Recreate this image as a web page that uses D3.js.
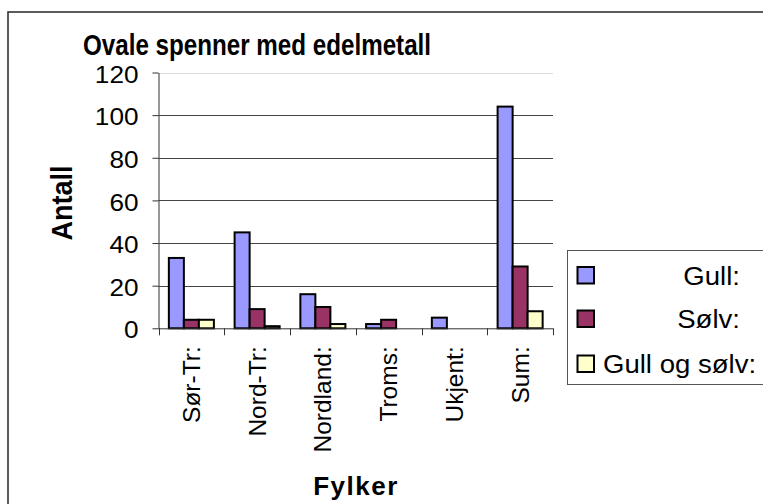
<!DOCTYPE html>
<html>
<head>
<meta charset="utf-8">
<script src="https://cdn.jsdelivr.net/npm/d3@7"></script>
<style>
  html, body { margin: 0; padding: 0; background: #fff; }
  svg { display: block; font-family: Arial, "Liberation Sans", sans-serif; }
</style>
</head>
<body>
<svg id="chart" width="763" height="504"></svg>
<script>
const categories = ["Sør-Tr:", "Nord-Tr:", "Nordland:", "Troms:", "Ukjent:", "Sum:"];
const seriesNames = ["Gull:", "Sølv:", "Gull og sølv:"];
const gull = [33, 45, 16, 2, 5, 104];
const solv = [4, 9, 10, 4, 0, 29];
const gullOgSolv = [4, 1, 2, 0, 0, 8];
const seriesValues = [gull, solv, gullOgSolv];
const colors = ["#9999FF", "#993366", "#FFFFCC"];
const yTicks = [0, 20, 40, 60, 80, 100, 120];
const titleText = "Ovale spenner med edelmetall";
const xTitle = "Fylker";
const yTitle = "Antall";

const svg = d3.select("#chart");

// outer chart frame
svg.append("rect")
  .attr("x", 8).attr("y", 12).attr("width", 800).attr("height", 520)
  .attr("fill", "#fff").attr("stroke", "#333").attr("stroke-width", 1.6);

const plot = { left: 158.5, right: 553, top: 72.5, bottom: 328.3 };

const x0 = d3.scaleBand().domain(categories).range([plot.left, plot.right]).padding(0);
const x1 = d3.scaleBand().domain(seriesNames).range([0, x0.bandwidth()]).paddingInner(0).paddingOuter(0.69);
const y = d3.scaleLinear().domain([0, 120]).range([plot.bottom, plot.top]);

// gridlines
svg.append("g").selectAll("line").data(yTicks.filter(d => d > 0)).join("line")
  .attr("x1", plot.left).attr("x2", plot.right)
  .attr("y1", d => Math.round(y(d)) + 0.5).attr("y2", d => Math.round(y(d)) + 0.5)
  .attr("stroke", d => d === 120 ? "#dcdcdc" : "#444").attr("stroke-width", 1);

// bars
const rows = categories.map((c, i) => ({ cat: c, vals: seriesNames.map((s, j) => ({ s, j, v: seriesValues[j][i] })) }));
const groups = svg.append("g").selectAll("g").data(rows).join("g")
  .attr("transform", d => `translate(${x0(d.cat)},0)`);
groups.selectAll("rect").data(d => d.vals.filter(e => e.v > 0)).join("rect")
  .attr("x", d => x1(d.s))
  .attr("y", d => y(d.v))
  .attr("width", x1.bandwidth())
  .attr("height", d => y(0) - y(d.v))
  .attr("fill", d => colors[d.j])
  .attr("stroke", "#000").attr("stroke-width", 2);

// y axis
const yAxis = d3.axisLeft(y).tickValues(yTicks).tickSize(6).tickSizeOuter(0).tickPadding(14);
const gy = svg.append("g").attr("transform", `translate(${plot.left},0)`).call(yAxis);
gy.select(".domain").attr("stroke", "#333");
gy.selectAll(".tick line").attr("stroke", "#333");
gy.selectAll(".tick text").attr("font-size", 24).attr("fill", "#000")
  .attr("font-family", "Arial, 'Liberation Sans', sans-serif")
  .attr("text-anchor", "end")
  .attr("transform", "translate(-20,2) scale(1.09,1)")
  .attr("x", 0);

// x axis (labels at band centres)
const xAxis = d3.axisBottom(x0).tickSize(0).tickPadding(0);
const gx = svg.append("g").attr("transform", `translate(0,${plot.bottom})`).call(xAxis);
gx.select(".domain").attr("stroke", "#333").attr("d", `M${plot.left},0.5H${plot.right}`);
gx.selectAll(".tick text")
  .attr("font-size", 24.5).attr("fill", "#000")
  .attr("font-family", "Arial, 'Liberation Sans', sans-serif")
  .attr("text-anchor", "end")
  .attr("dy", "0.35em")
  .attr("transform", "translate(0,18) rotate(-90)")
  .attr("x", 0).attr("y", 0);
// category boundary ticks
const bounds = categories.map(c => x0(c)).concat([plot.right]);
gx.append("g").selectAll("line").data(bounds).join("line")
  .attr("x1", d => Math.round(d) + 0.5).attr("x2", d => Math.round(d) + 0.5)
  .attr("y1", 0).attr("y2", 7).attr("stroke", "#333");

// title
svg.append("text").attr("transform", "translate(257,54.5) scale(0.93,1.15)").attr("text-anchor", "middle")
  .attr("font-size", 26).attr("font-weight", "bold").text(titleText);

// axis titles
svg.append("text").attr("transform", "translate(356,495)").attr("text-anchor", "middle")
  .attr("font-size", 26).attr("font-weight", "bold").attr("letter-spacing", 1.5).text(xTitle);
svg.append("text").attr("transform", "translate(71.5,203) rotate(-90) scale(1.04,1.17)").attr("text-anchor", "middle")
  .attr("font-size", 26).attr("font-weight", "bold").text(yTitle);

// legend
const lg = svg.append("g");
lg.append("rect").attr("x", 567.5).attr("y", 250.5).attr("width", 260).attr("height", 134)
  .attr("fill", "#fff").attr("stroke", "#555").attr("stroke-width", 1);
const legendY = [275.5, 319, 364];
seriesNames.forEach((s, j) => {
  lg.append("rect").attr("x", 577.5).attr("y", legendY[j] - 8.5).attr("width", 16.5).attr("height", 16.5)
    .attr("fill", colors[j]).attr("stroke", "#000").attr("stroke-width", 2);
  const t = lg.append("text").attr("font-size", 26).text(s);
  if (j < 2) t.attr("text-anchor", "end").attr("transform", `translate(740,${legendY[j] + 9}) scale(1.06,1)`);
  else t.attr("text-anchor", "start").attr("transform", `translate(603,${legendY[j] + 9}) scale(1.06,1)`);
});
</script>
</body>
</html>
